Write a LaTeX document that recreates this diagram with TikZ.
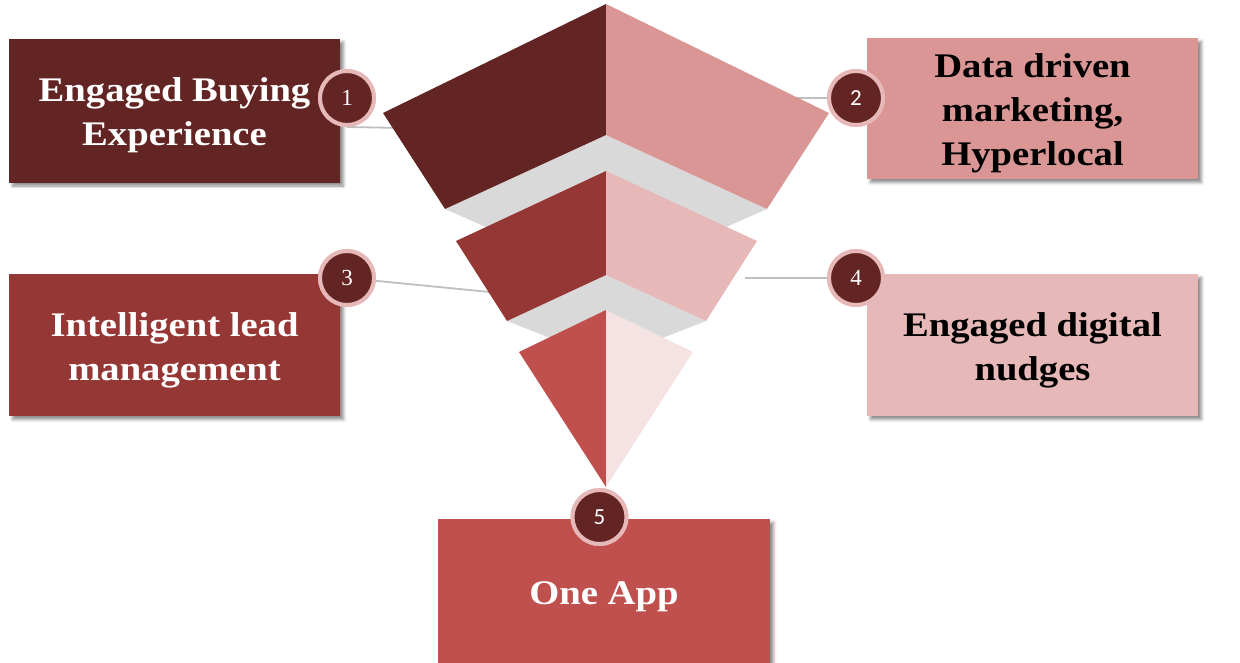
\documentclass[tikz,border=0pt]{standalone}
\usepackage{fontspec}
\setmainfont{Liberation Serif}[FakeStretch=1.12]
\newfontfamily\numserif{Liberation Serif}
\newfontfamily\numsans{Carlito}
\usetikzlibrary{shadows.blur}
\definecolor{cA}{HTML}{632523}
\definecolor{cAr}{HTML}{D99694}
\definecolor{cB}{HTML}{953735}
\definecolor{cBr}{HTML}{E6B9B8}
\definecolor{cC}{HTML}{C0504D}
\definecolor{cCr}{HTML}{F5E3E3}
\definecolor{bandgray}{HTML}{D9D9D9}
\definecolor{linegray}{HTML}{BFBFBF}
\definecolor{ring}{HTML}{E6B9B8}
\tikzset{
  box/.style={rectangle, inner sep=0pt, minimum width=331pt,
    blur shadow={shadow xshift=3.5pt, shadow yshift=-3.5pt, shadow blur radius=3pt, shadow opacity=45}},
  boxtext/.style={align=center, inner sep=0pt, yshift=-5pt,
    font=\bfseries\fontsize{34.5}{44}\selectfont},
  num/.style={circle, inner sep=0pt, minimum size=54pt, fill=cA, draw=ring, line width=4pt,
    text=white, font=\numserif\fontsize{23}{23}\selectfont},
  numsans/.style={num, font=\numsans\fontsize{23}{23}\selectfont},
  conn/.style={draw=linegray, line width=1.8pt},
}
\begin{document}
\begin{tikzpicture}[x=1pt, y=-1pt]
\useasboundingbox (0,0) rectangle (1240,662);
% boxes
\node[box, fill=cA, minimum height=144pt,
  label={[boxtext, text=white]center:Engaged Buying\\Experience}] (b1) at (174.5,110.5) {};
\node[box, fill=cAr, minimum height=141pt,
  label={[boxtext, text=black]center:Data driven\\marketing,\\Hyperlocal}] (b2) at (1032.5,108.5) {};
\node[box, fill=cB, minimum height=142pt,
  label={[boxtext, text=white]center:Intelligent lead\\management}] (b3) at (174.5,345) {};
\node[box, fill=cBr, minimum height=142pt,
  label={[boxtext, text=black]center:Engaged digital\\nudges}] (b4) at (1032.5,345) {};
\node[box, fill=cC, minimum width=332pt, minimum height=146pt,
  label={[boxtext, text=white]center:One App}] (b5) at (604,592) {};
% number circles
\node[num] (n1) at (347,98) {1};
\node[numsans] (n2) at (856,98) {2};
\node[num] (n3) at (347,278) {3};
\node[num] (n4) at (856,278) {4};
\node[numsans] (n5) at (599.5,517) {5};
% connector ends (hidden under funnel)
\coordinate (e1) at (405,128);
\coordinate (e2) at (790,98);
\coordinate (e3) at (500,293);
\coordinate (e4) at (745,278);
\draw[conn] (n1.south) -- (e1);
\draw[conn] (n2) -- (e2);
\draw[conn] (n3) -- (e3);
\draw[conn] (n4) -- (e4);
% funnel
\fill[bandgray] (445,209) -- (606,135) -- (767,209) -- (606,280) -- cycle;
\fill[cA] (606,4) -- (383,113) -- (445,209) -- (606,135) -- cycle;
\fill[cAr] (606,4) -- (829,113) -- (767,209) -- (606,135) -- cycle;
\fill[bandgray] (507,321) -- (606,275) -- (706,321) -- (606,360) -- cycle;
\fill[cB] (606,171) -- (456,241) -- (507,321) -- (606,275) -- cycle;
\fill[cBr] (606,171) -- (757,241) -- (706,321) -- (606,275) -- cycle;
\fill[cC] (606,310) -- (519,352) -- (606,487) -- cycle;
\fill[cCr] (606,310) -- (693,352) -- (606,487) -- cycle;
% circles on top of the funnel and connectors
\node[num] at (n1) {1};
\node[numsans] at (n2) {2};
\node[num] at (n3) {3};
\node[num] at (n4) {4};
\node[numsans] at (n5) {5};
\end{tikzpicture}
\end{document}
